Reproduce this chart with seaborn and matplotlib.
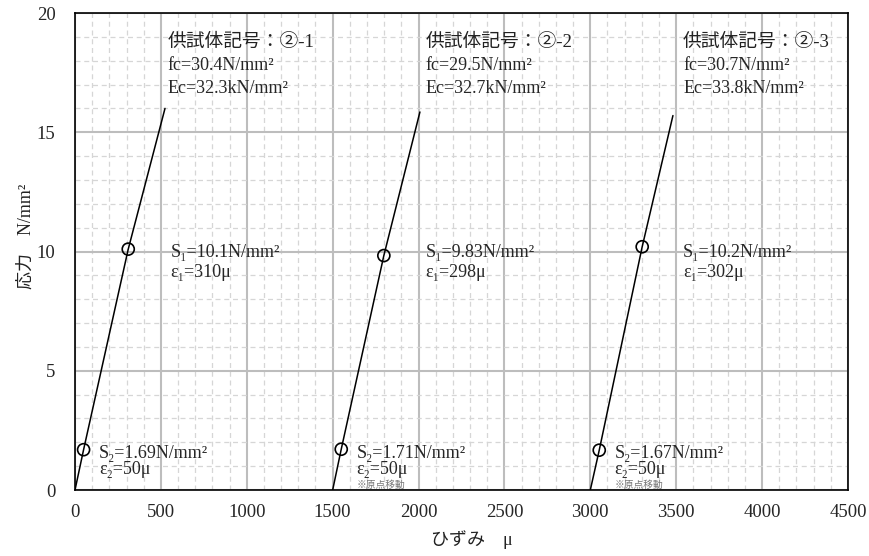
import numpy as np
import pandas as pd
import seaborn as sns
import matplotlib.pyplot as plt
from matplotlib.ticker import MultipleLocator

sns.set_style("white")
plt.rcParams['font.family'] = ['Liberation Serif', 'Noto Sans CJK JP', 'DejaVu Sans']

# measured curves (strain in micro, stress in N/mm2), origin of 2 and 3 shifted
strain_1 = [0, 50, 310, 524]
stress_1 = [0, 1.69, 10.1, 16.0]
strain_2 = [1500, 1550, 1798, 2008]
stress_2 = [0, 1.71, 9.83, 15.85]
strain_3 = [3000, 3052, 3302, 3481]
stress_3 = [0, 1.67, 10.2, 15.7]

# marked points (S1, S2)
pt_strain = [50, 310, 1550, 1798, 3052, 3302]
pt_stress = [1.69, 10.1, 1.71, 9.83, 1.67, 10.2]

specimen = ["②-1", "②-2", "②-3"]
fc = ["30.4", "29.5", "30.7"]
ec = ["32.3", "32.7", "33.8"]
s1 = ["10.1", "9.83", "10.2"]
e1 = ["310", "298", "302"]
s2 = ["1.69", "1.71", "1.67"]
e2 = ["50", "50", "50"]

curves = pd.concat([
    pd.DataFrame({"strain": strain_1, "stress": stress_1, "id": 1}),
    pd.DataFrame({"strain": strain_2, "stress": stress_2, "id": 2}),
    pd.DataFrame({"strain": strain_3, "stress": stress_3, "id": 3}),
])
points = pd.DataFrame({"strain": pt_strain, "stress": pt_stress})

fig = plt.figure(figsize=(8.69, 5.56), dpi=100)
ax = fig.add_axes([0.0863, 0.1187, 0.8895, 0.8579])

ax.xaxis.set_major_locator(MultipleLocator(500))
ax.xaxis.set_minor_locator(MultipleLocator(100))
ax.yaxis.set_major_locator(MultipleLocator(5))
ax.yaxis.set_minor_locator(MultipleLocator(1))
ax.grid(which='minor', color='#d6d6d6', linestyle=(0, (4, 3)), linewidth=0.9)
ax.grid(which='major', color='#bdbdbd', linestyle='-', linewidth=1.5)
ax.set_axisbelow(True)

sns.lineplot(data=curves, x="strain", y="stress", units="id", estimator=None,
             color='black', linewidth=1.1, sort=False, ax=ax)
sns.scatterplot(data=points, x="strain", y="stress", marker='o', s=75,
                facecolor='none', edgecolor='black', linewidth=1.2, ax=ax, zorder=5)

ax.set_xlim(0, 4500)
ax.set_ylim(0, 20)
ax.set_xlabel("")
ax.set_ylabel("")
ax.tick_params(axis='both', which='both', length=0, labelsize=13.5)
ax.tick_params(axis='y', pad=14)
ax.tick_params(axis='x', pad=10)
for sp in ax.spines.values():
    sp.set_color('black')
    sp.set_linewidth(1.2)

head_x = [540, 2040, 3540]
s1_x = [555, 2040, 3540]
s2_x = [140, 1640, 3140]
fs = 13
for i in range(3):
    ax.text(head_x[i], 18.75, "供試体記号：" + specimen[i], fontsize=13.5, va='center', color='#222222')
    ax.text(head_x[i], 17.8, "fc=" + fc[i] + "N/mm²", fontsize=fs, va='center')
    ax.text(head_x[i], 16.85, "Ec=" + ec[i] + "kN/mm²", fontsize=fs, va='center')
    ax.text(s1_x[i], 9.95, "S₁=" + s1[i] + "N/mm²", fontsize=fs, va='center')
    ax.text(s1_x[i], 9.1, "ε₁=" + e1[i] + "μ", fontsize=fs, va='center')
    ax.text(s2_x[i], 1.55, "S₂=" + s2[i] + "N/mm²", fontsize=fs, va='center')
    ax.text(s2_x[i], 0.88, "ε₂=" + e2[i] + "μ", fontsize=fs, va='center')
    if i > 0:
        ax.text(s2_x[i], 0.2, "※原点移動", fontsize=7, va='center', color='#777777')

fig.text(0.543, 0.029, "ひずみ　μ", fontsize=13, ha='center', va='center', color='#222222')
fig.text(0.030, 0.575, "応力　N/mm²", fontsize=13, ha='center', va='center',
         rotation=90, color='#222222')

fig.savefig("out.png", dpi=100)
